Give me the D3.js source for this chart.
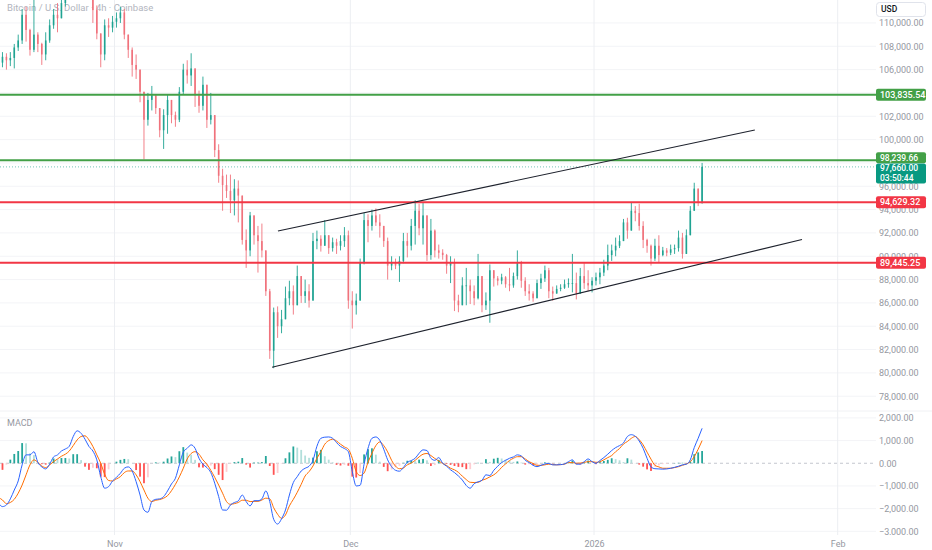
<!DOCTYPE html>
<html><head><meta charset="utf-8">
<script src="https://cdn.jsdelivr.net/npm/d3@7"></script>
<style>
html,body{margin:0;padding:0;background:#fff;}
svg{display:block;font-family:Roboto,"Liberation Sans",sans-serif;}
</style></head><body>
<svg id="chart" width="932" height="550"></svg>
<script>
// ---------------- DATA ----------------
const title = "Bitcoin / U.S. Dollar · 4h · Coinbase";
const candleStartUTC = [2025, 9, 17, 6];   // first 12h candle (Oct 17 2025 06:00 UTC)
const candleStepHours = 12;
const firstOpenK = 103.9;                   // prices in thousands of USD
const closesK = [
106.6,107.1,106.8,107.0,107.9,108.5,110.7,109.4,107.7,109.0,
108.2,107.3,108.5,109.8,110.7,110.4,111.7,113.0,114.2,115.0,
114.5,115.3,114.0,113.5,111.1,109.1,107.3,109.8,109.6,110.1,
110.4,110.9,109.0,107.7,106.4,106.0,104.1,101.7,103.4,103.8,
102.7,100.8,102.1,103.4,102.1,101.7,104.1,106.0,105.5,106.1,
103.8,102.9,104.7,101.7,102.1,99.1,96.9,96.1,95.6,94.8,
95.8,95.2,91.4,90.5,93.5,91.8,91.3,90.5,87.0,81.9,
85.2,84.0,84.6,86.4,87.0,85.8,88.3,86.6,87.0,86.2,
91.3,91.5,90.9,91.8,90.7,91.2,90.9,91.3,91.8,86.2,
85.8,86.2,89.5,93.1,92.6,93.5,92.9,92.6,91.3,89.2,
89.5,89.2,89.6,91.3,90.9,92.6,93.9,92.4,93.5,90.1,
92.2,90.5,90.3,90.1,89.2,89.5,86.2,85.8,87.5,87.5,
87.0,86.4,88.3,85.8,86.2,88.8,88.1,87.9,88.2,87.6,
87.5,88.3,89.5,87.9,87.0,86.8,86.4,87.7,88.1,88.8,
87.0,86.8,87.2,87.3,87.6,87.7,87.7,86.8,88.3,87.7,
87.5,87.9,88.2,88.6,89.2,90.1,90.5,90.9,91.3,92.9,
92.2,93.9,93.7,92.6,91.4,90.9,89.8,90.9,90.1,90.5,
90.3,90.6,90.7,91.6,90.2,91.8,93.9,95.8,94.6,97.66];
const highsK = [
106.8,107.5,107.4,107.5,108.2,109.0,111.2,111.4,109.5,112.0,
109.2,108.3,109.2,110.3,111.2,111.7,112.5,113.8,114.9,115.9,
115.6,116.1,115.5,114.6,112.8,111.5,108.8,110.3,110.4,110.6,
110.9,111.4,111.2,108.6,107.9,107.3,105.9,103.5,104.0,104.6,
103.8,102.5,102.6,103.9,103.2,102.4,104.5,106.5,106.8,107.4,
106.0,104.2,105.4,104.0,104.0,102.0,99.6,97.5,97.0,97.0,
96.6,96.5,94.0,92.3,93.8,93.3,92.6,92.8,90.0,87.2,
85.6,85.7,85.4,87.4,87.9,87.5,89.2,88.2,88.0,87.6,
92.0,92.2,91.8,93.1,91.5,91.6,91.5,91.8,92.5,92.2,
87.0,86.8,89.8,93.7,93.6,94.0,94.1,93.6,92.5,91.6,
90.0,89.8,90.0,92.0,92.0,93.2,94.8,94.5,94.6,93.5,
93.2,92.3,91.0,90.6,90.2,90.0,89.8,86.7,88.2,89.0,
88.0,87.5,90.2,88.0,86.9,89.3,88.8,88.3,88.5,88.3,
89.0,88.6,90.5,89.6,88.2,87.6,87.0,88.0,88.5,89.2,
89.0,87.4,87.5,87.6,88.0,88.1,90.2,88.6,89.0,89.4,
88.8,88.2,88.6,89.0,89.7,91.0,91.0,91.6,91.8,93.2,
93.3,94.6,94.3,94.5,93.0,91.5,91.0,91.5,91.8,90.8,
90.7,91.0,91.0,92.2,92.0,92.3,94.3,96.3,95.8,98.0];
const lowsK = [
103.6,106.2,106.0,106.3,106.1,107.6,108.2,108.4,107.2,107.5,
107.5,106.4,106.8,108.3,109.5,109.2,110.5,111.4,112.6,113.8,
113.7,114.0,113.3,112.6,110.0,108.6,106.2,106.8,108.8,109.2,
109.6,110.0,108.6,107.0,105.4,105.2,103.2,98.3,101.2,102.5,
102.2,100.2,99.2,100.5,101.4,101.1,101.5,103.9,104.8,104.6,
102.8,102.3,102.5,101.0,101.3,98.5,96.3,93.9,95.0,93.7,
93.5,92.9,91.0,89.0,90.0,91.0,88.6,89.9,86.6,81.2,
80.4,83.0,83.4,85.0,85.8,85.0,86.3,86.0,86.0,85.6,
86.5,90.6,90.4,90.9,90.2,90.4,90.2,90.5,90.8,85.5,
83.8,85.0,86.5,89.3,91.2,92.2,92.6,91.6,90.8,88.0,
88.8,88.9,87.8,89.4,89.9,90.5,91.0,91.8,91.0,89.6,
89.7,89.9,89.8,89.7,88.5,87.7,85.3,85.2,86.4,85.8,
85.9,85.8,86.3,85.2,85.4,84.3,87.4,87.5,87.6,87.3,
87.0,87.3,88.0,87.3,86.6,86.2,86.1,86.8,87.2,87.8,
86.4,86.2,86.8,87.0,87.2,87.3,86.9,86.3,86.8,87.2,
87.0,86.9,87.5,87.6,88.3,88.8,89.6,90.0,90.7,91.3,
91.5,92.3,93.0,92.2,90.7,90.3,89.2,89.6,89.5,90.0,
90.0,90.1,90.2,90.4,89.8,90.3,91.8,93.9,94.3,94.5];
const macdLine = [
-1760,-1910,-1840,-1570,-1180,-780,-70,370,370,510,
40,-160,-250,-40,280,370,540,630,750,1180,
1430,1320,1060,740,540,150,-590,-1100,-1030,-780,
-620,-440,-220,-160,-340,-810,-1400,-2060,-2160,-1690,
-1590,-1570,-1470,-1220,-910,-660,-70,490,660,810,
660,220,-40,-190,-410,-880,-1470,-2060,-2070,-1840,
-1730,-1660,-1400,-1690,-1880,-1650,-1650,-1570,-1220,-1690,
-2470,-2680,-2450,-2060,-1400,-850,-590,-340,-220,-130,
130,750,1100,1150,1160,1100,910,740,650,510,
-370,-1000,-970,-40,660,1100,1160,1010,620,150,
-150,-310,-350,-190,40,120,220,440,590,560,
220,130,250,0,-130,-290,-410,-560,-740,-980,
-1100,-900,-820,-750,-510,-540,-310,-130,30,130,
220,280,370,320,130,30,-90,-150,-90,-30,
-10,-70,-70,-60,-30,70,150,-40,-40,70,
190,70,0,120,250,400,560,690,780,900,
1180,1260,1190,980,660,220,-160,-240,-250,-260,
-250,-220,-180,-130,-70,-40,150,690,1100,1540];
const signalLine = [
-1510,-1620,-1780,-1730,-1590,-1320,-960,-510,-70,150,
40,-120,-190,-70,70,190,310,400,540,780,
1030,1180,1210,1030,740,370,0,-490,-760,-780,
-690,-590,-410,-340,-340,-510,-810,-1180,-1540,-1690,
-1630,-1600,-1540,-1430,-1210,-930,-600,-220,190,430,
510,400,150,-40,-310,-620,-960,-1320,-1690,-1810,
-1780,-1730,-1630,-1630,-1690,-1680,-1680,-1620,-1540,-1570,
-1960,-2250,-2430,-2280,-1880,-1590,-1280,-930,-560,-370,
-120,220,510,840,1000,1060,980,840,720,620,
220,-370,-540,-430,40,440,780,940,780,500,
130,-130,-240,-210,-70,10,130,280,400,430,
340,210,100,-10,-100,-220,-290,-400,-570,-720,
-840,-850,-840,-750,-690,-600,-510,-370,-180,-30,
120,220,290,290,190,70,-10,-90,-90,-70,
-40,-60,-70,-60,-40,30,30,0,10,40,
70,70,40,70,150,250,340,510,650,850,
960,1100,1180,1040,810,490,180,-90,-160,-220,
-220,-220,-190,-150,-90,-30,70,290,620,1000];
const greenLevels = [103835.54, 98239.66];
const redLevels = [94629.32, 89445.25];
const lastPrice = 97660.00;
const countdown = "03:50:44";
const upperTrend = [["2025-11-21T19:00:00Z", 92165], ["2026-01-21T11:00:00Z", 100823]];
const lowerTrend = [["2025-11-21T01:00:00Z", 80480], ["2026-01-27T11:00:00Z", 91436]];
const priceTicks = [78000,80000,82000,84000,86000,88000,90000,92000,94000,96000,98000,100000,102000,104000,106000,108000,110000];
const hiddenPriceTickLabels = [98000];   // covered by the price tags in the reference
const macdTicks = [-3000,-2000,-1000,0,1000,2000];
const monthTicks = ["2025-11-01","2025-12-01","2026-01-01","2026-02-01"];
const monthLabels = ["Nov","Dec","2026","Feb"];

// ---------------- LAYOUT ----------------
const plotRight = 876, priceBottom = 410, macdTop = 412, macdBottom = 535;
const UP = "#1fa392", DOWN = "#f0727c";
const TAG_UP = "#089981";
const svg = d3.select("#chart");
const x = d3.scaleUtc().domain([new Date("2025-11-01T00:00:00Z"), new Date("2026-02-01T00:00:00Z")]).range([114.5, 837.7]);
const yP = d3.scaleLinear().domain([80000, 110000]).range([372.9, 22.95]);
const yM = d3.scaleLinear().domain([-3000, 2000]).range([531.3, 417.9]);

const defs = svg.append("defs");
defs.append("clipPath").attr("id","cp").append("rect").attr("x",0).attr("y",0).attr("width",plotRight).attr("height",priceBottom);
defs.append("clipPath").attr("id","cm").append("rect").attr("x",0).attr("y",macdTop).attr("width",plotRight).attr("height",macdBottom-macdTop);
defs.append("clipPath").attr("id","cpa").append("rect").attr("x",plotRight).attr("y",0).attr("width",56).attr("height",priceBottom);
defs.append("clipPath").attr("id","cma").append("rect").attr("x",plotRight).attr("y",macdTop).attr("width",56).attr("height",macdBottom-macdTop);

// grid
const grid = svg.append("g");
grid.append("g").attr("clip-path","url(#cp)").selectAll("line").data(priceTicks).join("line")
  .attr("x1",0).attr("x2",plotRight).attr("y1",d=>yP(d)).attr("y2",d=>yP(d)).attr("stroke","#f3f4f7");
grid.append("g").attr("clip-path","url(#cm)").selectAll("line").data(macdTicks.filter(d=>d!==0)).join("line")
  .attr("x1",0).attr("x2",plotRight).attr("y1",d=>yM(d)).attr("y2",d=>yM(d)).attr("stroke","#f3f4f7");
grid.selectAll("line.v").data(monthTicks).join("line").attr("class","v")
  .attr("x1",d=>x(new Date(d+"T00:00:00Z"))).attr("x2",d=>x(new Date(d+"T00:00:00Z")))
  .attr("y1",0).attr("y2",macdBottom).attr("stroke","#eceef2");
svg.append("line").attr("x1",0).attr("x2",932).attr("y1",priceBottom+1).attr("y2",priceBottom+1).attr("stroke","#f0f1f4");

// title
svg.append("text").attr("x",7).attr("y",8).attr("dominant-baseline","middle")
  .attr("font-size",9.5).attr("fill","#b2b5be").text(title);

// candles
const start = new Date(Date.UTC(...candleStartUTC));
const candles = closesK.map((c,i)=>{
  const o = i ? closesK[i-1] : firstOpenK;
  return {t:d3.utcHour.offset(start, i*candleStepHours), o:o*1000, c:c*1000,
          h:Math.max(highsK[i],o,c)*1000, l:Math.min(lowsK[i],o,c)*1000};
});
const gp = svg.append("g").attr("clip-path","url(#cp)");
const cg = gp.append("g");
cg.selectAll("line.w").data(candles).join("line").attr("class","w")
  .attr("x1",d=>x(d.t)).attr("x2",d=>x(d.t)).attr("y1",d=>yP(d.h)).attr("y2",d=>yP(d.l))
  .attr("stroke",d=>d.c>=d.o?UP:DOWN).attr("stroke-width",0.9);
cg.selectAll("rect").data(candles).join("rect")
  .attr("x",d=>x(d.t)-0.8).attr("width",1.6)
  .attr("y",d=>yP(Math.max(d.o,d.c))).attr("height",d=>Math.max(0.8, Math.abs(yP(d.o)-yP(d.c))))
  .attr("fill",d=>d.c>=d.o?UP:DOWN);

// horizontal levels
gp.selectAll("line.g").data(greenLevels).join("line").attr("class","g")
  .attr("x1",0).attr("x2",plotRight).attr("y1",d=>yP(d)).attr("y2",d=>yP(d)).attr("stroke","#43a047").attr("stroke-width",2);
gp.selectAll("line.r").data(redLevels).join("line").attr("class","r")
  .attr("x1",0).attr("x2",plotRight).attr("y1",d=>yP(d)).attr("y2",d=>yP(d)).attr("stroke","#f23645").attr("stroke-width",2);
gp.append("line").attr("x1",0).attr("x2",plotRight).attr("y1",yP(lastPrice)).attr("y2",yP(lastPrice))
  .attr("stroke",TAG_UP).attr("stroke-width",1).attr("stroke-dasharray","1,2").attr("opacity",0.55);

// trend lines
[upperTrend, lowerTrend].forEach(tl=>{
  gp.append("line")
    .attr("x1",x(new Date(tl[0][0]))).attr("y1",yP(tl[0][1]))
    .attr("x2",x(new Date(tl[1][0]))).attr("y2",yP(tl[1][1]))
    .attr("stroke","#1e222d").attr("stroke-width",1.1);
});

// MACD pane
const gm = svg.append("g").attr("clip-path","url(#cm)");
gm.append("line").attr("x1",0).attr("x2",plotRight).attr("y1",yM(0)).attr("y2",yM(0))
  .attr("stroke","#c3c6ce").attr("stroke-dasharray","3,3");
const hist = macdLine.map((m,i)=>({t:d3.utcHour.offset(start,i*candleStepHours), v:m-signalLine[i]}));
hist.forEach((d,i)=>{
  const p = i ? hist[i-1].v : d.v;
  d.col = d.v>=0 ? (d.v>=p ? "#26a69a" : "#b2dfdb") : (d.v<p ? "#ff5252" : "#ffcdd2");
});
gm.selectAll("rect").data(hist).join("rect")
  .attr("x",d=>x(d.t)-0.9).attr("width",1.8)
  .attr("y",d=>Math.min(yM(0),yM(d.v))).attr("height",d=>Math.abs(yM(d.v)-yM(0)))
  .attr("fill",d=>d.col);
const lineGen = arr => d3.line().x((d,i)=>x(d3.utcHour.offset(start,i*candleStepHours))).y(d=>yM(d)).curve(d3.curveMonotoneX)(arr);
gm.append("path").attr("d",lineGen(signalLine)).attr("fill","none").attr("stroke","#ff6d00").attr("stroke-width",1);
gm.append("path").attr("d",lineGen(macdLine)).attr("fill","none").attr("stroke","#2962ff").attr("stroke-width",1);
svg.append("text").attr("x",7).attr("y",424).attr("dominant-baseline","middle")
  .attr("font-size",9).attr("fill","#9598a1").text("MACD");

// axes
const axP = svg.append("g").attr("clip-path","url(#cpa)").append("g").attr("transform","translate(879,0)")
  .call(d3.axisRight(yP).tickValues(priceTicks.filter(d=>!hiddenPriceTickLabels.includes(d)))
  .tickSize(0).tickPadding(0).tickFormat(d3.format(",.2f")));
const axM = svg.append("g").attr("clip-path","url(#cma)").append("g").attr("transform","translate(879,0)")
  .call(d3.axisRight(yM).tickValues(macdTicks).tickSize(0).tickPadding(0).tickFormat(d3.format(",.2f")));
[axP,axM].forEach(a=>{
  a.select(".domain").remove();
  a.selectAll("text").attr("font-size",9).attr("fill","#9598a1").attr("font-family","Roboto,sans-serif");
});
const axX = svg.append("g").attr("transform","translate(0,535)")
  .call(d3.axisBottom(x).tickValues(monthTicks.map(d=>new Date(d+"T00:00:00Z"))).tickSize(0).tickPadding(6)
  .tickFormat((d,i)=>monthLabels[i]));
axX.select(".domain").remove();
axX.selectAll("text").attr("font-size",9).attr("fill","#9598a1").attr("font-family","Roboto,sans-serif");

// price label boxes
function tag(top, h, fill, lines, fs){
  const g = svg.append("g");
  g.append("rect").attr("x",plotRight).attr("y",top).attr("width",50).attr("height",h).attr("rx",2).attr("fill",fill);
  lines.forEach((t,k)=>{
    g.append("text").attr("x",plotRight+4).attr("y",top + (h/lines.length)*(k+0.5)+0.5)
      .attr("dominant-baseline","middle").attr("font-size",fs).attr("font-weight",500)
      .attr("fill","#fff").text(t);
  });
}
const fmt = d3.format(",.2f");
tag(yP(greenLevels[0])-6, 12, "#43a047", [fmt(greenLevels[0])], 9);
tag(yP(redLevels[0])-6, 12, "#f23645", [fmt(redLevels[0])], 9);
tag(yP(redLevels[1])-6, 12, "#f23645", [fmt(redLevels[1])], 9);
tag(152.3, 11, "#43a047", [fmt(greenLevels[1])], 8.5);
tag(163.5, 20, TAG_UP, [fmt(lastPrice), countdown], 8.5);

// USD box
svg.append("rect").attr("x",876.5).attr("y",2.5).attr("width",49).attr("height",14).attr("rx",3)
  .attr("fill","#fff").attr("stroke","#e0e3eb");
svg.append("text").attr("x",881).attr("y",10).attr("dominant-baseline","middle")
  .attr("font-size",8.5).attr("font-weight",500).attr("fill","#131722").text("USD");
</script>
</body></html>
